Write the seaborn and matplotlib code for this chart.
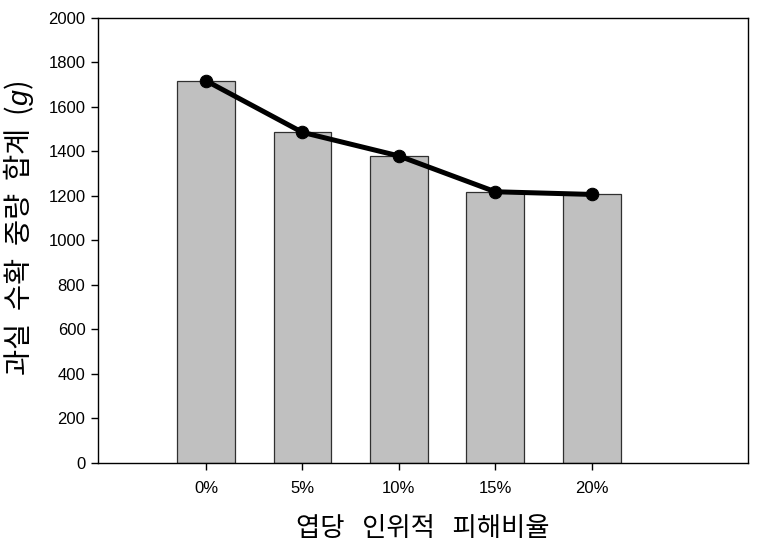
import pandas as pd
import matplotlib
matplotlib.use("Agg")
import matplotlib.pyplot as plt
import seaborn as sns

# data
ratios = ["0%", "5%", "10%", "15%", "20%"]
weights = [1718, 1486, 1380, 1219, 1207]

df = pd.DataFrame({"ratio": ratios, "weight": weights})

sns.set_style("ticks")
plt.rcParams["font.family"] = ["Liberation Sans", "Noto Sans CJK KR"]
plt.rcParams["mathtext.fontset"] = "custom"
plt.rcParams["mathtext.it"] = "Liberation Sans:italic"
plt.rcParams["mathtext.rm"] = "Liberation Sans"
plt.rcParams["text.color"] = "black"
plt.rcParams["axes.labelcolor"] = "black"
plt.rcParams["xtick.color"] = "black"
plt.rcParams["ytick.color"] = "black"

fig = plt.figure(figsize=(7.62, 5.47), dpi=100)
ax = fig.add_axes([0.1286, 0.1536, 0.8530, 0.8135])

# bars
sns.barplot(data=df, x="ratio", y="weight", color="#c0c0c0", saturation=1,
            width=0.6, edgecolor="#303030", linewidth=0.9, ax=ax)

# line with dots on top
sns.lineplot(data=df, x="ratio", y="weight", color="black", linewidth=3.6,
             marker="o", markersize=9, markeredgecolor="black", ax=ax, zorder=5)

ax.set_xlim(-1.12, 5.62)
ax.set_ylim(0, 2000)
ax.set_yticks(range(0, 2001, 200))

for s in ax.spines.values():
    s.set_visible(True)
    s.set_color("black")
    s.set_linewidth(1.0)

ax.tick_params(axis="both", which="major", direction="out", length=5,
               width=1, labelsize=12, top=False, right=False)
ax.tick_params(axis="x", pad=8)
ax.tick_params(axis="y", pad=4)

ax.set_xlabel("엽당   인위적   피해비율", fontsize=19, family=["Noto Sans CJK KR"],
              labelpad=14)
ax.set_ylabel("과실  수확  중량  합계  ($\\it{g}$)", fontsize=20.5,
              family=["Noto Sans CJK KR"])
ax.yaxis.set_label_coords(-0.096, 0.528)

plt.savefig("out.png", dpi=100)
